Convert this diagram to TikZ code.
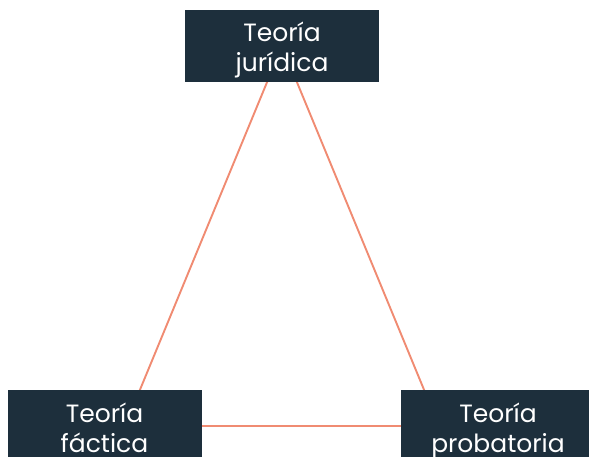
\documentclass[tikz,border=0pt]{standalone}
\usepackage{fontspec}
\setmainfont{Poppins}
\usepackage{xcolor}
\usetikzlibrary{positioning,calc}
\definecolor{boxnavy}{HTML}{1D2F3C}
\definecolor{linesalmon}{HTML}{F08B72}
\newcommand{\theorytext}[2]{\raisebox{-5pt}[\height][\depth]{\begin{tabular}{@{}c@{}}#1\\#2\end{tabular}}}
\begin{document}
\begin{tikzpicture}[x=1pt,y=-1pt,
  theory/.style={fill=boxnavy,text=white,minimum width=194pt,minimum height=72pt,
    inner sep=0pt,font=\fontsize{25}{30}\selectfont},
  edge/.style={draw=linesalmon,line width=1.9pt}]
% fix the frame
\useasboundingbox (0,0) rectangle (589,457);
% draw corners of the triangle
\coordinate (cj) at (282,46);
\coordinate (cf) at (125,426);
\coordinate (cp) at (439,426);
% draw triangle
\draw[edge] (cj) -- (cf) -- (cp) -- cycle;
% draw boxes
\node[theory] (juridica) at (cj) {\theorytext{Teoría}{jurídica}};
\node[theory] (factica) at ($(cf)+(-20.5,0)$) {\theorytext{Teoría}{fáctica}};
\node[theory] (probatoria) at ($(cp)+(59,0)$) {\theorytext{Teoría}{probatoria}};
\end{tikzpicture}
\end{document}
